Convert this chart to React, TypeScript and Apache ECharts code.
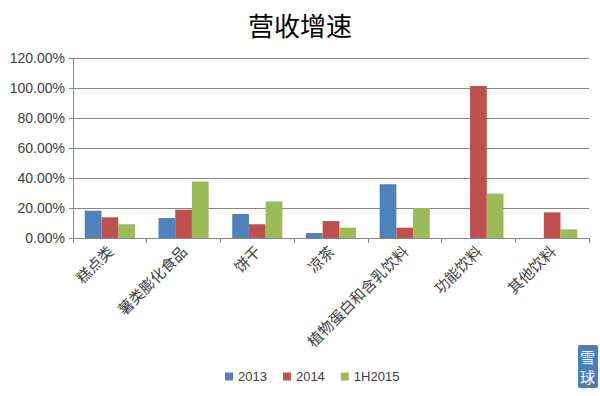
import React, { useEffect, useRef } from "react";
import * as echarts from "echarts";

const categories = ["糕点类", "薯类膨化食品", "饼干", "凉茶", "植物蛋白和含乳饮料", "功能饮料", "其他饮料"];
const s2013 = [18.2, 13.3, 16.0, 3.3, 35.8, 0, 0];
const s2014 = [13.8, 18.9, 9.1, 11.3, 6.9, 101.3, 17.1];
const s1H2015 = [9.1, 37.6, 24.4, 6.9, 20.0, 29.6, 5.8];
const seriesNames = ["2013", "2014", "1H2015"];
const colors = ["#4F81BD", "#C0504D", "#9BBB59"];

export default function App() {
  const ref = useRef<HTMLDivElement>(null);
  useEffect(() => {
    const chart = echarts.init(ref.current!, null, { renderer: "svg" });
    const data = [s2013, s2014, s1H2015];
    chart.setOption({
      animation: false,
      backgroundColor: "#ffffff",
      title: {
        text: "营收增速",
        left: "center",
        top: 6,
        textStyle: { fontFamily: "Noto Sans CJK SC", fontSize: 26, fontWeight: "normal", color: "#000" },
      },
      legend: {
        bottom: 8,
        left: 220,
        itemWidth: 8,
        itemHeight: 8,
        itemGap: 16,
        icon: "rect",
        textStyle: { fontFamily: "Arial, Liberation Sans", fontSize: 13, color: "#404040" },
        data: seriesNames,
      },
      grid: { left: 73, right: 11, top: 58, bottom: 158, containLabel: false },
      xAxis: {
        type: "category",
        data: categories,
        axisLine: { lineStyle: { color: "#868686" } },
        axisTick: { show: true, alignWithLabel: false, length: 5, lineStyle: { color: "#868686" } },
        axisLabel: {
          interval: 0,
          rotate: 45,
          margin: 10,
          fontFamily: "Noto Sans CJK SC",
          fontSize: 15,
          color: "#404040",
        },
      },
      yAxis: {
        type: "value",
        min: 0,
        max: 120,
        interval: 20,
        axisLine: { show: true, lineStyle: { color: "#868686" } },
        axisTick: { show: true, length: 4, lineStyle: { color: "#868686" } },
        splitLine: { lineStyle: { color: "#868686" } },
        axisLabel: {
          formatter: (v: number) => v.toFixed(2) + "%",
          fontFamily: "Arial, Liberation Sans",
          fontSize: 14,
          color: "#404040",
          margin: 8,
        },
      },
      series: seriesNames.map((n, i) => ({
        name: n,
        type: "bar",
        data: data[i],
        barGap: "0%",
        barCategoryGap: "32%",
        itemStyle: { color: colors[i] },
      })),
      graphic: [
        {
          type: "rect",
          left: 578,
          top: 345,
          shape: { width: 20, height: 43, r: 2 },
          style: { fill: "#4A7EBB" },
        },
        {
          type: "text",
          left: 580,
          top: 347,
          style: { text: "雪", fill: "#ffffff", fontSize: 15, lineHeight: 18, fontFamily: "Noto Sans CJK SC" },
        },
        {
          type: "text",
          left: 580,
          top: 367,
          style: { text: "球", fill: "#ffffff", fontSize: 15, lineHeight: 18, fontFamily: "Noto Sans CJK SC" },
        },
      ],
    });
    return () => chart.dispose();
  }, []);
  return (
    <div
      ref={ref}
      style={{ position: "absolute", left: 0, top: 0, width: 600, height: 396 }}
    />
  );
}
